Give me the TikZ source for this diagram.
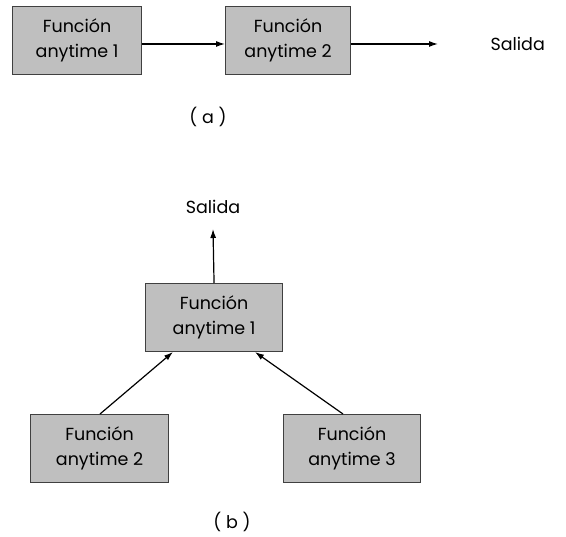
\documentclass[tikz,border=0pt]{standalone}
\usepackage{fontspec}
\setmainfont{Poppins}
\usetikzlibrary{arrows.meta}
\begin{document}
\begin{tikzpicture}[x=1pt,y=-1pt,
  fbox/.style={draw=black!75, line width=1.1pt, fill=black!25, align=center,
    font=\fontsize{17.5}{25}\selectfont, inner sep=0pt, anchor=north west},
  lbl/.style={font=\fontsize{17.5}{20}\selectfont},
  conn/.style={-{Latex[length=9pt,width=6pt]}, line width=1.2pt}]
\useasboundingbox (0,0) rectangle (566,537);
% (a) chain of two functions
\node[fbox, minimum width=129pt, minimum height=68pt] (a1) at (12,6) {Función\\anytime 1};
\node[fbox, minimum width=125pt, minimum height=68pt] (a2) at (225,6) {Función\\anytime 2};
\coordinate (aout) at (438,44);
\node[lbl, anchor=west] (asal) at (487,44) {Salida};
\draw[conn] (a1.east |- 0,44) -- (a2.west |- 0,44);
\draw[conn] (a2.east |- 0,44) -- (aout);
\node[lbl] (capa) at (208,117) {( a )};
% (b) tree of three functions
\node[lbl] (bsal) at (213,207) {Salida};
\node[fbox, minimum width=137pt, minimum height=68pt] (b1) at (145,283) {Función\\anytime 1};
\node[fbox, minimum width=138pt, minimum height=68pt] (b2) at (30,414) {Función\\anytime 2};
\node[fbox, minimum width=137pt, minimum height=68pt] (b3) at (283,414) {Función\\anytime 3};
\draw[conn] (b1.north) -- (213,229);
\draw[conn] (100,414) -- (173,352);
\draw[conn] (343,414) -- (255,352);
\node[lbl] (capb) at (232,522) {( b )};
\end{tikzpicture}
\end{document}
